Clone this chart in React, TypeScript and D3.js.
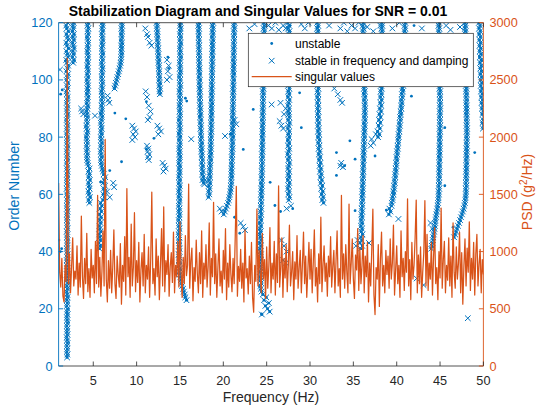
import React from 'react';
import * as d3 from 'd3';

const BLUE = '#0072BD';
const ORANGE = '#D95319';
const FONT = '"Liberation Sans", Arial, Helvetica, sans-serif';

// PSD of singular values, sampled every 0.125 Hz from 1 Hz
const psdFrom = 1;
const psdStep = 0.125;
const psdValues = [
  1600, 820, 690, 940, 610, 560, 880, 740,
  2690, 720, 980, 640, 870, 1120, 700, 830,
  760, 1050, 620, 900, 690, 1310, 780, 590,
  940, 720, 1160, 650, 850, 600, 1020, 770,
  880, 640, 1090, 720, 1490, 690, 950, 610,
  830, 1180, 700, 1980, 760, 560, 920, 680,
  1010, 640, 870, 1190, 720, 590, 960, 800,
  690, 1070, 540, 880, 740, 1130, 620, 1550,
  780, 950, 600, 1240, 700, 860, 1340, 650,
  920, 730, 1080, 560, 840, 990, 700, 1150,
  640, 880, 760, 1040, 600, 930, 1520, 720,
  850, 620, 1110, 780, 960, 580, 890, 1200,
  700, 1390, 650, 920, 800, 1060, 610, 870,
  990, 730, 1170, 640, 880, 780, 1090, 690,
  1260, 830, 600, 950, 720, 1140, 790, 880,
  1590, 680, 920, 1030, 570, 860, 740, 1100,
  810, 640, 990, 720, 1180, 600, 900, 760,
  1060, 690, 870, 1250, 620, 940, 780, 1430,
  720, 980, 600, 860, 1110, 700, 830, 640,
  1010, 760, 1200, 580, 900, 690, 1060, 800,
  650, 940, 720, 1130, 1570, 610, 870, 740,
  1020, 680, 900, 560, 1190, 770, 850, 630,
  960, 720, 1080, 600, 470, 880, 740, 1370,
  700, 1010, 820, 640, 1160, 760, 930, 590,
  1040, 680, 870, 1210, 640, 900, 760, 1090,
  620, 980, 730, 1575, 690, 860, 1120, 600,
  940, 770, 1060, 650, 880, 1230, 700, 820,
  1000, 580, 910, 760, 1140, 680, 860, 1010,
  640, 890, 1170, 720, 960, 600, 830, 1080,
  760, 1020, 640, 900, 1190, 700, 860, 560,
  980, 720, 1300, 650, 880, 1050, 740, 900,
  610, 960, 780, 1130, 690, 870, 1010, 640,
  920, 1180, 700, 850, 600, 1490, 760, 980,
  680, 1060, 820, 640, 1415, 720, 900, 1110,
  760, 590, 970, 840, 1200, 660, 1030, 720,
  880, 1140, 640, 960, 780, 1080, 560, 900,
  700, 1020, 1370, 620, 450, 860, 760, 1060,
  520, 940, 1170, 700, 880, 640, 1010, 800,
  960, 680, 1110, 760, 900, 1230, 620, 840,
  1050, 720, 880, 600, 1180, 780, 940, 660,
  1000, 820, 1460, 700, 930, 580, 1080, 760,
  880, 1120, 1450, 640, 970, 720, 1040, 600,
  820, 990, 1445, 700, 1150, 660, 900, 760,
  1080, 620, 950, 1210, 720, 860, 580, 1000,
  770, 1380, 680, 930, 1090, 640, 880, 750,
  1120, 700, 960, 600, 1250, 820, 680, 1040,
  760, 900, 1170, 640, 990, 540, 870, 1110,
  700, 1030, 820, 1260, 660, 940, 760, 1080,
  620, 980, 1150, 700, 890, 1020, 640, 930,
  800,
];

// Stable pole columns: first order, then one frequency (Hz) per successive order
const col01From = 3;
const col01 = [
  1.98, 2.01, 1.96, 2.00, 1.97, 2.02, 1.99, 1.95, 2.01, 1.98,
  2.00, 1.96, 2.02, 1.99, 1.97, 2.01, 1.98, 2.03, 1.96, 2.00,
  1.97, 2.02, 1.99, 1.95, 2.01, 1.98, 2.03, 1.97, 2.00, 1.96,
  2.02, 1.99, 1.97, 2.01, 1.95, 2.00, 2.03, 1.98, 1.96, 2.01,
  1.99, 2.02, 1.97, 2.00, 1.95, 2.03, 1.98, 2.01, 1.96, 2.00,
  1.97, 2.02, 1.99, 1.96, 2.01, 1.98, 2.03, 1.97, 2.00, 1.95,
  2.02, 1.98, 1.96, 2.01, 1.99, 2.03, 1.97, 2.00, 1.95, 2.02,
  1.98, 2.01, 1.96, 2.00, 2.03, 1.97, 1.99, 2.02, 1.95, 2.00,
  1.97, 2.02, 1.98, 1.94, 2.01, 2.04, 1.97, 1.99, 2.02, 1.95,
  2.00, 2.05, 1.96, 1.92, 2.03, 1.98, 2.06, 1.93, 2.01, 2.08,
  1.90, 2.04, 2.10, 1.94, 1.88, 2.07, 2.02, 1.91, 2.12, 1.97,
  1.89, 2.09, 2.03, 1.92, 2.11, 1.95, 1.88, 2.06,
];
const col02From = 106;
const col02 = [2.68, 2.74, 2.63, 2.71, 2.66, 2.77, 2.70, 2.64, 2.73, 2.68, 2.75, 2.62, 2.70, 2.67, 2.72];
const col03From = 57;
const col03 = [
  4.55, 4.48, 4.62, 4.50, 4.44, 4.58, 4.52, 4.47, 4.60, 4.49,
  4.53, 4.45, 4.57, 4.41, 4.36, 4.30, 4.27, 4.31, 4.25, 4.29,
  4.24, 4.30, 4.26, 4.22, 4.28, 4.33, 4.25, 4.21, 4.29, 4.26,
  4.32, 4.27, 4.23, 4.30, 4.35, 4.28, 4.33, 4.38, 4.31, 4.36,
  4.33, 4.39, 4.34, 4.30, 4.37, 4.32, 4.40, 4.35, 4.31, 4.38,
  4.34, 4.41, 4.36, 4.32, 4.39, 4.35, 4.42, 4.37, 4.33, 4.40,
  4.36, 4.41, 4.34, 4.38,
];
const col04From = 41;
const col04 = [
  5.72, 5.78, 5.66, 5.81, 5.74, 5.69, 5.85, 5.76, 5.71, 5.83,
  5.77, 5.88, 5.73, 5.92, 5.80, 5.97, 5.86, 6.10, 6.28, 6.18,
  6.31, 6.22, 6.35, 6.15, 6.26, 6.38, 6.20, 6.12, 6.05, 5.98,
  5.93, 5.88, 5.95, 5.90, 5.86, 5.93, 5.89, 5.96, 5.91, 5.87,
  5.94, 5.90, 5.97, 5.92, 5.88, 5.95, 5.99, 5.93, 5.97, 6.01,
  5.96, 6.02, 5.98, 6.04, 6.00, 5.96, 6.03, 5.99, 6.05, 6.01,
  5.97, 6.04, 6.00, 6.06, 6.02, 5.98, 6.05, 6.01, 6.07, 6.03,
  5.99, 6.06, 6.02, 6.08, 6.04, 6.00, 6.07, 6.03, 6.09, 6.05,
];
const col05From = 97;
const col05 = [
  7.45, 7.52, 7.60, 7.70, 7.78, 7.88, 7.95, 8.03, 8.10, 8.15,
  8.19, 8.22, 8.25, 8.23, 8.27, 8.24, 8.28, 8.25, 8.29, 8.26,
  8.30, 8.27, 8.31, 8.28,
];
const col06From = 95;
const col06 = [
  12.68, 12.64, 12.70, 12.62, 12.66, 12.60, 12.63, 12.57, 12.61, 12.55,
  12.58, 12.52, 12.55, 12.49, 12.52, 12.46, 12.49, 12.43, 12.46, 12.40,
  12.42, 12.37, 12.39, 12.34, 12.36, 12.31,
];
const col07From = 23;
const col07 = [
  15.75, 15.62, 15.55, 15.44, 15.36, 15.25, 15.18, 15.10, 15.04, 14.98,
  14.93, 14.97, 14.90, 14.95, 14.88, 14.93, 14.86, 14.91, 14.95, 14.89,
  14.93, 14.87, 14.92, 14.85, 14.90, 14.94, 14.88, 14.92, 14.86, 14.91,
  14.95, 14.89, 14.93, 14.87, 14.92, 14.96, 14.90, 14.94, 14.88, 14.93,
  14.97, 14.91, 14.95, 14.89, 14.94, 14.98, 14.92, 14.96, 14.90, 14.95,
  14.99, 14.93, 14.97, 14.91, 14.96, 15.00, 14.94, 14.98, 14.92, 14.97,
  15.01, 14.95, 14.99, 14.93, 14.98, 15.02, 14.96, 15.00, 14.94, 14.99,
  15.03, 14.97, 15.01, 14.95, 15.00, 15.04, 14.98, 15.02, 14.96, 15.01,
  15.05, 14.99, 15.03, 14.97, 15.02, 15.06, 15.00, 15.04, 14.98, 15.03,
  15.07, 15.01, 15.05, 14.99, 15.04, 15.08, 15.02, 15.06,
];
const col08From = 64;
const col08 = [
  17.72, 17.60, 17.66, 17.58, 17.63, 17.55, 17.60, 17.52, 17.57, 17.50,
  17.54, 17.47, 17.51, 17.45, 17.49, 17.42, 17.46, 17.40, 17.44, 17.38,
  17.42, 17.36, 17.40, 17.34, 17.38, 17.32, 17.36, 17.30, 17.34, 17.28,
  17.32, 17.27, 17.31, 17.25, 17.29, 17.24, 17.28, 17.22, 17.26, 17.21,
  17.25, 17.20, 17.24, 17.19, 17.23, 17.18, 17.22, 17.17, 17.21, 17.16,
  17.20, 17.15, 17.19, 17.14, 17.18, 17.13, 17.17,
];
const col09From = 59;
const col09 = [
  18.30, 18.38, 18.33, 18.41, 18.36, 18.44, 18.39, 18.46, 18.42, 18.48,
  18.44, 18.50, 18.47, 18.53, 18.49, 18.55, 18.51, 18.57, 18.53, 18.58,
  18.55, 18.60, 18.56, 18.62, 18.58, 18.63, 18.59, 18.64, 18.60, 18.65,
  18.61, 18.66, 18.62, 18.67, 18.63, 18.68, 18.64, 18.69, 18.65, 18.70,
  18.66, 18.71, 18.67, 18.72, 18.68, 18.73, 18.69, 18.74, 18.70, 18.75,
  18.71, 18.76, 18.72, 18.77, 18.73, 18.78, 18.74, 18.79, 18.75, 18.80,
  18.76, 18.81,
];
const col10From = 53;
const col10 = [
  20.05, 20.18, 20.30, 20.42, 20.55, 20.63, 20.70, 20.76, 20.81, 20.85,
  20.88, 20.92, 20.90, 20.95, 20.93, 20.97, 20.94, 20.99, 20.96, 21.01,
  20.98, 21.03, 21.00, 21.05, 21.02, 21.06, 21.03, 21.08, 21.04, 21.09,
  21.05, 21.10, 21.06, 21.11, 21.07, 21.12, 21.08, 21.13, 21.09, 21.14,
  21.10, 21.15, 21.11, 21.16, 21.12, 21.17, 21.13, 21.18, 21.14, 21.19,
  21.15, 21.20, 21.16, 21.21, 21.17, 21.22, 21.18, 21.23, 21.19, 21.24,
  21.20, 21.25, 21.21, 21.26, 21.22, 21.27, 21.23, 21.28,
];
const col11From = 18;
const col11 = [
  24.45, 25.35, 25.10, 24.85, 25.25, 24.70, 24.95, 24.55, 24.40, 24.33,
  24.28, 24.35, 24.30, 24.25, 24.32, 24.27, 24.34, 24.29, 24.24, 24.31,
  24.26, 24.33, 24.28, 24.23, 24.30, 24.25, 24.32, 24.27, 24.22, 24.29,
  24.24, 24.31, 24.26, 24.33, 24.28, 24.35, 24.30, 24.37, 24.32, 24.38,
  24.34, 24.40, 24.36, 24.42, 24.38, 24.44, 24.40, 24.46, 24.41, 24.47,
  24.43, 24.48, 24.44, 24.49, 24.45, 24.50, 24.46, 24.51, 24.47, 24.52,
  24.48, 24.53, 24.49, 24.54, 24.50, 24.55, 24.51, 24.56, 24.52, 24.57,
  24.53, 24.58, 24.54, 24.59, 24.55, 24.60, 24.56, 24.61, 24.57, 24.62,
  24.58, 24.63, 24.59, 24.64, 24.60, 24.65, 24.61, 24.66, 24.62, 24.67,
  24.63, 24.68, 24.64, 24.69, 24.65, 24.70, 24.66, 24.71, 24.67, 24.72,
  24.68, 24.73, 24.69,
];
const col12From = 58;
const col12 = [
  27.55, 27.62, 27.50, 27.58, 27.46, 27.54, 27.60, 27.48, 27.56, 27.51,
  27.59, 27.47, 27.55, 27.62, 27.50, 27.57, 27.45, 27.53, 27.60, 27.48,
  27.56, 27.49, 27.58, 27.52, 27.60, 27.47, 27.55, 27.63, 27.51, 27.58,
  27.55, 27.50, 27.58, 27.46, 27.54, 27.61, 27.49, 27.57, 27.52, 27.60,
  27.48, 27.56, 27.63, 27.51, 27.58, 27.46, 27.55, 27.62, 27.50, 27.57,
  27.45, 27.53, 27.60, 27.48, 27.56, 27.51, 27.59, 27.47, 27.55, 27.62,
  27.50, 27.57, 27.45,
];
const col13From = 57;
const col13 = [
  31.55, 31.42, 31.50, 31.36, 31.46, 31.30, 31.40, 31.25, 31.34, 31.20,
  31.28, 31.16, 31.24, 31.12, 31.20, 31.08, 31.15, 31.04, 31.12, 31.01,
  31.08, 30.98, 31.05, 30.96, 31.03, 30.94, 31.01, 30.92, 30.99, 30.91,
  30.98, 30.90, 30.97, 30.89, 30.96, 30.88, 30.95, 30.87, 30.94, 30.88,
  30.95, 30.87, 30.94, 30.86, 30.93, 30.87, 30.94, 30.86, 30.93, 30.85,
  30.92, 30.86, 30.93, 30.85, 30.92, 30.84, 30.91, 30.85, 30.92, 30.84,
  30.91, 30.85, 30.92, 30.84,
];
const col14From = 41;
const col14 = [
  35.85, 36.02, 35.78, 35.95, 35.88, 36.05, 35.92, 35.98, 35.90, 35.96,
  35.93, 35.99, 35.95, 36.01, 35.97, 36.03, 35.99, 36.05, 36.01, 36.07,
  36.03, 36.09, 36.05, 36.11, 36.07, 36.13, 36.09, 36.15, 36.11, 36.17,
  36.13, 36.19, 36.15, 36.21, 36.17, 36.23, 36.19, 36.25, 36.21, 36.27,
  36.23, 36.29, 36.25, 36.31, 36.27, 36.33, 36.29, 36.34, 36.30, 36.35,
  36.31, 36.34, 36.28, 36.32, 36.26, 36.30, 36.24, 36.28, 36.22, 36.26,
  36.20, 36.24, 36.18, 36.22, 36.17, 36.21, 36.16, 36.20, 36.15, 36.19,
  36.14, 36.18, 36.13, 36.17, 36.12, 36.16, 36.11, 36.15, 36.10, 36.14,
];
const col15From = 80;
const col15 = [
  37.85, 37.98, 37.80, 38.05, 37.92, 38.10, 37.96, 38.14, 38.02, 38.18,
  38.07, 38.21, 38.12, 38.24, 38.15, 38.22, 38.18, 38.26, 38.20, 38.27,
  38.22, 38.28, 38.23, 38.29, 38.24, 38.30, 38.25, 38.31, 38.26, 38.30,
  38.27, 38.31, 38.26, 38.30, 38.27, 38.32, 38.28, 38.31, 38.27, 38.32,
  38.28,
];
const col16From = 53;
const col16 = [
  39.10, 39.27, 39.16, 39.40, 39.43, 39.53, 39.54, 39.63, 39.62, 39.70,
  39.69, 39.78, 39.76, 39.84, 39.82, 39.90, 39.88, 39.95, 39.93, 40.00,
  39.98, 40.06, 40.04, 40.12, 40.10, 40.18, 40.16, 40.24, 40.22, 40.30,
  40.28, 40.36, 40.33, 40.41, 40.39, 40.47, 40.45, 40.53, 40.51, 40.58,
  40.56, 40.64, 40.61, 40.69, 40.66, 40.74, 40.71, 40.78, 40.75, 40.82,
  40.78, 40.85, 40.81, 40.88, 40.84, 40.90, 40.86, 40.92, 40.88, 40.93,
  40.90, 40.95, 40.91, 40.96, 40.92, 40.97, 40.93, 40.98,
];
const col17From = 41;
const col17 = [
  43.98, 44.05, 44.12, 44.18, 44.22, 44.27, 44.31, 44.35, 44.40, 44.44,
  44.48, 44.53, 44.58, 44.63, 44.68, 44.72, 44.76, 44.80, 44.83, 44.86,
  44.84, 44.89, 44.86, 44.91, 44.87, 44.92, 44.88, 44.93, 44.89, 44.94,
  44.90, 44.95, 44.91, 44.96, 44.92, 44.97, 44.93, 44.98, 44.94, 44.99,
  44.95, 45.00, 44.96, 45.01, 44.97, 45.00, 44.96, 45.01, 44.97, 45.02,
  44.98, 45.02, 44.97, 45.01, 44.96, 45.00, 44.95, 44.99, 44.94, 44.98,
  44.93, 44.97, 44.92, 44.96, 44.91, 44.95, 44.90, 44.94, 44.89, 44.93,
  44.88, 44.92, 44.87, 44.91, 44.86, 44.90, 44.85, 44.89, 44.84, 44.88,
];
const col18From = 45;
const col18 = [
  46.62, 46.74, 46.85, 46.96, 47.07, 47.19, 47.31, 47.42, 47.53, 47.63,
  47.72, 47.80, 47.86, 47.91, 47.95, 47.98, 48.00, 47.97, 48.02, 47.99,
  48.03, 48.00, 48.04, 48.01, 48.05, 48.02, 48.06, 48.03, 48.07, 48.04,
  48.08, 48.05, 48.09, 48.06, 48.10, 48.07, 48.11, 48.08, 48.10, 48.07,
  48.09, 48.06, 48.08, 48.05, 48.07, 48.04, 48.06, 48.03, 48.05, 48.02,
  48.04, 48.01, 48.03, 48.00, 48.02, 47.99, 48.01, 47.98, 48.00, 47.97,
  47.99, 47.96, 47.98, 47.95, 47.97, 47.94, 47.96, 47.93, 47.95, 47.92,
  47.94, 47.91, 47.93, 47.90, 47.92, 47.89,
];
const col19From = 83;
const col19 = [
  49.95, 50.02, 49.90, 49.98, 50.05, 49.88, 49.96, 49.84, 49.92, 49.80,
  49.88, 49.77, 49.85, 49.74, 49.82, 49.72, 49.80, 49.70, 49.78, 49.68,
  49.76, 49.66, 49.74, 49.64, 49.72, 49.62, 49.70, 49.60, 49.68, 49.58,
  49.66, 49.56, 49.64, 49.54, 49.62, 49.52, 49.60, 49.50,
];

// isolated stable poles [frequency, order]
const stableScatter: [number, number][] = [
  [25.2, 119], [25.6, 118], [26.0, 120], [26.4, 117.5], [26.9, 119], [27.2, 118],
  [29.0, 119.5], [29.4, 118], [29.8, 120], [32.2, 119], [33.5, 118], [33.9, 120],
  [34.3, 117], [34.8, 119], [35.2, 118], [35.6, 120], [36.6, 118.5], [37.3, 117],
  [38.1, 119], [39.5, 118], [40.3, 120], [42.9, 118], [45.7, 119], [46.2, 117.5],
  [47.3, 118.5], [23.0, 118], [23.6, 119.5],
  [11.0, 118], [11.3, 115], [11.5, 113], [11.7, 112], [11.2, 116],
  [13.5, 107], [13.7, 105], [13.6, 103], [13.8, 101], [13.5, 100],
  [6.72, 93], [6.85, 92], [6.65, 94.5], [7.3, 64], [7.4, 62.5], [6.6, 61], [6.9, 59],
  [3.7, 89], [3.85, 88], [3.6, 90], [5.2, 87.5], [1.16, 103.6],
  [11.05, 96], [11.2, 94], [11.4, 91], [11.6, 89], [11.5, 87], [11.3, 86],
  [9.5, 84], [9.7, 83], [9.9, 82], [9.6, 81], [9.8, 80], [9.5, 79],
  [11.2, 77], [11.35, 76], [11.3, 75], [11.45, 74], [11.3, 73], [11.4, 72],
  [12.4, 84], [12.6, 83], [12.8, 82], [12.5, 81],
  [13.0, 71], [13.2, 70], [13.35, 69], [13.1, 68], [16.3, 79.3],
  [17.9, 65], [17.8, 63.5],
  [20.2, 80.4], [21.3, 86], [21.5, 84.5], [19.6, 55], [19.8, 54],
  [25.57, 91.4], [26.5, 85.6], [26.7, 84], [26.9, 83], [27.0, 88], [27.2, 90], [26.6, 92],
  [32.8, 97], [33.2, 95], [33.5, 93], [33.7, 92], [33.6, 71], [33.8, 69.5], [33.5, 70],
  [22.3, 48.7], [22.5, 47.5], [22.0, 50],
  [26.7, 44], [27.0, 42], [27.3, 40], [26.9, 37], [27.2, 36], [27.8, 56], [27.3, 55],
  [37.1, 79.3], [37.3, 78], [37.0, 77], [37.6, 81], [40.2, 51.4],
  [42.3, 30.6], [43.1, 28.3], [48.2, 16.7], [35.5, 44], [35.3, 42], [36.8, 43],
  [43.9, 50], [44.1, 48],
];

// isolated unstable poles [frequency, order]
const unstableScatter: [number, number][] = [
  [1.42, 96.5], [1.24, 95], [7.49, 88.4], [8.75, 86.4], [8.26, 71.4], [5.84, 64.3],
  [6.9, 68.3], [15.63, 93.6], [15.78, 92.6], [17.28, 87.3], [11.13, 92.4], [12.0, 79.6],
  [11.13, 75.8], [1.04, 44], [1.35, 41], [1.2, 40], [23.45, 89.7], [28.8, 95.5],
  [22.3, 75.7], [25.4, 64.2], [29.0, 83.3], [33.05, 74.6], [33.05, 66.6], [20.8, 81],
  [25.95, 56.1], [26.6, 54], [21.9, 46.4], [21.3, 52], [28.0, 55], [34.6, 78.7],
  [35.2, 72.3], [34.0, 70], [37.5, 73.4], [41.7, 94.3], [45.55, 83.3], [49.0, 74.6],
  [45.55, 63], [35.2, 54.3], [38.8, 54.5], [46.5, 48.5], [24.4, 18.2], [13.6, 108],
  [13.7, 104], [27.7, 119], [30.9, 118.5], [42.0, 119],
];

const xTicks = [5, 10, 15, 20, 25, 30, 35, 40, 45, 50];
const yLeftTicks = [0, 20, 40, 60, 80, 100, 120];
const yRightTicks = [0, 500, 1000, 1500, 2000, 2500, 3000];

const columns: [number, number[]][] = [
  [col01From, col01], [col02From, col02], [col03From, col03], [col04From, col04],
  [col05From, col05], [col06From, col06], [col07From, col07], [col08From, col08],
  [col09From, col09], [col10From, col10], [col11From, col11], [col12From, col12],
  [col13From, col13], [col14From, col14], [col15From, col15], [col16From, col16],
  [col17From, col17], [col18From, col18], [col19From, col19],
];

const X0 = 58.6, X1 = 483.4, Y0 = 366, Y1 = 22.7;

export default function App() {
  const x = d3.scaleLinear().domain([1, 50]).range([X0, X1]);
  const yL = d3.scaleLinear().domain([0, 120]).range([Y0, Y1]);
  const yR = d3.scaleLinear().domain([0, 3000]).range([Y0, Y1]);

  const psd: [number, number][] = psdValues.map((v, i) => [psdFrom + i * psdStep, v]);
  const linePath = d3.line<[number, number]>().x(d => x(d[0])).y(d => yR(d[1]))(psd) || '';

  const columnPts: [number, number][] = columns.flatMap(([from, fs]) =>
    fs.map((f, i) => [f, from + i] as [number, number]));
  const stablePts: [number, number][] = columnPts.concat(stableScatter);

  const s = 2.8;
  const crossPath = stablePts
    .map(([f, o]) => {
      const cx = x(f), cy = yL(o);
      return `M${cx - s},${cy - s}L${cx + s},${cy + s}M${cx - s},${cy + s}L${cx + s},${cy - s}`;
    })
    .join('');

  const dotPts: [number, number][] = columnPts.concat(unstableScatter);

  const axisDark = '#262626';
  const tick = 4.5;

  return (
    <div style={{ position: 'absolute', left: 0, top: 0 }}>
      <svg width={546} height={409} style={{ display: 'block', background: '#fff' }} fontFamily={FONT}>
        <defs>
          <clipPath id="plotclip">
            <rect x={X0} y={Y1} width={X1 - X0} height={Y0 - Y1} />
          </clipPath>
        </defs>
        <rect x={0} y={0} width={546} height={409} fill="#fff" />
        <g clipPath="url(#plotclip)">
          <path d={crossPath} stroke={BLUE} strokeWidth={1} fill="none" />
          {dotPts.map(([f, o], i) => (
            <circle key={i} cx={x(f)} cy={yL(o)} r={1.4} fill={BLUE} />
          ))}
          <path d={linePath} stroke={ORANGE} strokeWidth={1.25} fill="none" strokeLinejoin="round" />
        </g>

        {/* axes box */}
        <line x1={X0} x2={X1} y1={Y0} y2={Y0} stroke={axisDark} strokeWidth={0.8} />
        <line x1={X0} x2={X1} y1={Y1} y2={Y1} stroke={axisDark} strokeWidth={0.8} />
        <line x1={X0} x2={X0} y1={Y1} y2={Y0} stroke={BLUE} strokeWidth={0.9} />
        <line x1={X1} x2={X1} y1={Y1} y2={Y0} stroke={ORANGE} strokeWidth={0.9} />

        {xTicks.map(t => (
          <g key={'x' + t}>
            <line x1={x(t)} x2={x(t)} y1={Y0} y2={Y0 - tick} stroke={axisDark} strokeWidth={0.8} />
            <line x1={x(t)} x2={x(t)} y1={Y1} y2={Y1 + tick} stroke={axisDark} strokeWidth={0.8} />
            <text x={x(t)} y={385} textAnchor="middle" fontSize={12.7} fill={axisDark}>{t}</text>
          </g>
        ))}
        {yLeftTicks.map(t => (
          <g key={'l' + t}>
            <line x1={X0} x2={X0 + tick} y1={yL(t)} y2={yL(t)} stroke={BLUE} strokeWidth={0.9} />
            <text x={52.5} y={yL(t) + 4.5} textAnchor="end" fontSize={12.7} fill={BLUE}>{t}</text>
          </g>
        ))}
        {yRightTicks.map(t => (
          <g key={'r' + t}>
            <line x1={X1} x2={X1 - tick} y1={yR(t)} y2={yR(t)} stroke={ORANGE} strokeWidth={0.9} />
            <text x={489.5} y={yR(t) + 4.5} textAnchor="start" fontSize={12.7} fill={ORANGE}>{t}</text>
          </g>
        ))}

        <text x={258} y={16} textAnchor="middle" fontSize={14} fontWeight="bold" fill="#000">
          Stabilization Diagram and Singular Values for SNR = 0.01
        </text>
        <text x={271} y={402} textAnchor="middle" fontSize={14} fill={axisDark}>Frequency (Hz)</text>
        <text transform="translate(18.5,186) rotate(-90)" textAnchor="middle" fontSize={14} fill={BLUE}>Order Number</text>
        <text transform="translate(532,192) rotate(-90)" textAnchor="middle" fontSize={14} fill={ORANGE}>
          PSD (g<tspan dy={-5} fontSize={10}>2</tspan><tspan dy={5}>/Hz)</tspan>
        </text>

        {/* legend */}
        <g>
          <rect x={248.3} y={33.3} width={225} height={53.4} fill="#fff" stroke={axisDark} strokeWidth={0.7} />
          <circle cx={271.7} cy={43.5} r={1.4} fill={BLUE} />
          <text x={295} y={47.8} fontSize={12} fill="#000">unstable</text>
          <path d={`M${271.7 - s},${60.7 - s}L${271.7 + s},${60.7 + s}M${271.7 - s},${60.7 + s}L${271.7 + s},${60.7 - s}`} stroke={BLUE} strokeWidth={1} />
          <text x={295} y={65} fontSize={12} fill="#000">stable in frequency and damping</text>
          <line x1={251.7} x2={291.7} y1={76.7} y2={76.7} stroke={ORANGE} strokeWidth={1.25} />
          <text x={295} y={81} fontSize={12} fill="#000">singular values</text>
        </g>
      </svg>
    </div>
  );
}
